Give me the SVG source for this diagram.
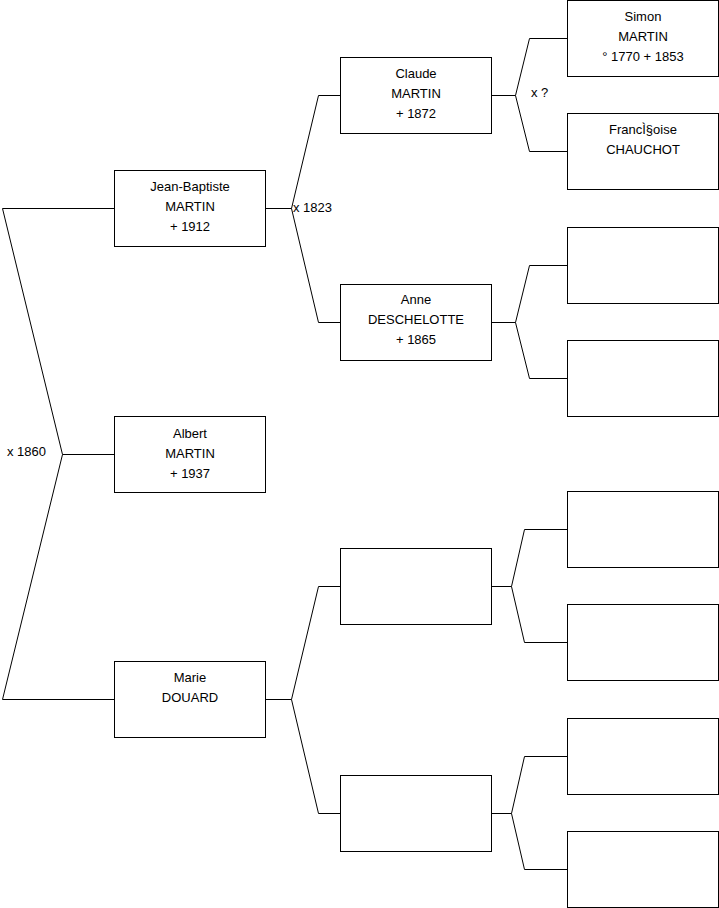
<svg xmlns="http://www.w3.org/2000/svg" width="719" height="908" viewBox="0 0 719 908">
<style>
.box{fill:#fff;stroke:#000;stroke-width:1}
.ln{fill:none;stroke:#000;stroke-width:1}
text{font-family:"Liberation Sans",Arial,sans-serif;font-size:13px;fill:#000}
.c{text-anchor:middle}
</style>
<rect width="719" height="908" fill="#fff"/>
<g id="connectors">
<polyline class="ln" points="114.5,208.5 2.5,208.5 62.5,454.5 2.5,699.5 114.5,699.5"/>
<line class="ln" x1="62.5" y1="454.5" x2="114.5" y2="454.5"/>
<polyline class="ln" points="340.5,95.5 318.5,95.5 291.5,208.5 318.5,322.5 340.5,322.5"/>
<line class="ln" x1="265.5" y1="208.5" x2="291.5" y2="208.5"/>
<polyline class="ln" points="567.5,38.5 529.5,38.5 515.5,95.5 529.5,151.5 567.5,151.5"/>
<line class="ln" x1="491.5" y1="95.5" x2="515.5" y2="95.5"/>
<polyline class="ln" points="567.5,265.5 529.5,265.5 515.5,322.5 529.5,378.5 567.5,378.5"/>
<line class="ln" x1="491.5" y1="322.5" x2="515.5" y2="322.5"/>
<polyline class="ln" points="340.5,586.5 318.5,586.5 291.5,699.5 318.5,813.5 340.5,813.5"/>
<line class="ln" x1="265.5" y1="699.5" x2="291.5" y2="699.5"/>
<polyline class="ln" points="567.5,529.5 524.5,529.5 511.5,586.5 524.5,642.5 567.5,642.5"/>
<line class="ln" x1="491.5" y1="586.5" x2="511.5" y2="586.5"/>
<polyline class="ln" points="567.5,756.5 524.5,756.5 511.5,813.5 524.5,869.5 567.5,869.5"/>
<line class="ln" x1="491.5" y1="813.5" x2="511.5" y2="813.5"/>
<text x="7" y="456">x 1860</text>
<text x="293" y="212">x 1823</text>
<text x="531" y="97">x ?</text>
</g>
<g id="jean-baptiste"><rect class="box" x="114.5" y="170.5" width="151" height="76"/>
<text class="c" x="190" y="191">Jean-Baptiste</text><text class="c" x="190" y="211">MARTIN</text><text class="c" x="190" y="231">+ 1912</text></g>
<g id="albert"><rect class="box" x="114.5" y="416.5" width="151" height="76"/>
<text class="c" x="190" y="438">Albert</text><text class="c" x="190" y="458">MARTIN</text><text class="c" x="190" y="478">+ 1937</text></g>
<g id="marie"><rect class="box" x="114.5" y="661.5" width="151" height="76"/>
<text class="c" x="190" y="682">Marie</text><text class="c" x="190" y="702">DOUARD</text></g>
<g id="claude"><rect class="box" x="340.5" y="57.5" width="151" height="76"/>
<text class="c" x="416" y="78">Claude</text><text class="c" x="416" y="98">MARTIN</text><text class="c" x="416" y="118">+ 1872</text></g>
<g id="anne"><rect class="box" x="340.5" y="284.5" width="151" height="76"/>
<text class="c" x="416" y="304">Anne</text><text class="c" x="416" y="324">DESCHELOTTE</text><text class="c" x="416" y="344">+ 1865</text></g>
<g id="empty-m1"><rect class="box" x="340.5" y="548.5" width="151" height="76"/></g>
<g id="empty-m2"><rect class="box" x="340.5" y="775.5" width="151" height="76"/></g>
<g id="simon"><rect class="box" x="567.5" y="0.5" width="151" height="76"/>
<text class="c" x="643" y="21">Simon</text><text class="c" x="643" y="41">MARTIN</text><text class="c" x="643" y="61">° 1770 + 1853</text></g>
<g id="francoise"><rect class="box" x="567.5" y="113.5" width="151" height="76"/>
<text class="c" x="643" y="134">FrancÌ§oise</text><text class="c" x="643" y="154">CHAUCHOT</text></g>
<g id="empty-a1"><rect class="box" x="567.5" y="227.5" width="151" height="76"/></g>
<g id="empty-a2"><rect class="box" x="567.5" y="340.5" width="151" height="76"/></g>
<g id="empty-b1"><rect class="box" x="567.5" y="491.5" width="151" height="76"/></g>
<g id="empty-b2"><rect class="box" x="567.5" y="604.5" width="151" height="76"/></g>
<g id="empty-b3"><rect class="box" x="567.5" y="718.5" width="151" height="76"/></g>
<g id="empty-b4"><rect class="box" x="567.5" y="831.5" width="151" height="76"/></g>
</svg>
